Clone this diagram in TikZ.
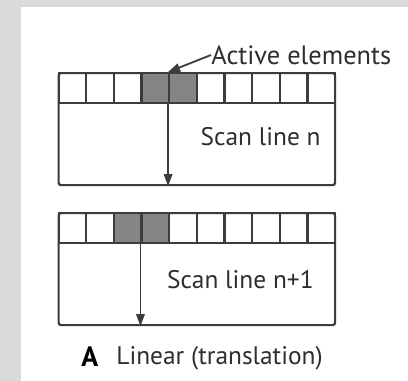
\documentclass[tikz,border=0pt]{standalone}
\usepackage{fontspec}
\setmainfont{PT Sans}
\usepackage{xcolor}
\usetikzlibrary{positioning, arrows.meta, calc}

\definecolor{pagegray}{HTML}{DADADA}
\definecolor{linegray}{HTML}{3C3C3C}
\definecolor{activegray}{HTML}{858585}
\definecolor{textgray}{HTML}{2E2E2E}

\begin{document}
\begin{tikzpicture}[
        x=0.5pt, y=-0.5pt,
        scanbox/.style={draw=linegray, line width=1.1pt, rounded corners=1.2pt, minimum width=138.25pt, minimum height=56pt, inner sep=0pt, anchor=north west},
        cellbox/.style={draw=linegray, line width=1.1pt, minimum width=13.825pt, minimum height=15pt, inner sep=0pt, anchor=north west},
        activecell/.style={cellbox, fill=activegray},
        arrow/.style={-{Triangle[length=6pt, width=4.2pt]}, line width=0.9pt, draw=linegray, fill=linegray},
        label/.style={font=\fontsize{12.7}{15}\selectfont, text=textgray, inner sep=0pt}
    ]

    % ============ BACKGROUND ============
    \useasboundingbox (0,0) rectangle (408,381);
    \fill[pagegray] (0,0) rectangle (408,381);
    \fill[white] (21,7) rectangle (408,381);

    % ============ SCAN LINE n ============
    \node[scanbox] (linen) at (57.5,72) {};
    \foreach \i in {0,...,9} {
        \ifnum\i=3 \def\cellstyle{activecell}\else\ifnum\i=4 \def\cellstyle{activecell}\else\def\cellstyle{cellbox}\fi\fi
        \node[\cellstyle] (n\i) at ([xshift=\i*13.825pt]linen.north west) {};
    }
    \node[label, anchor=east] (labn) at (321,137) {Scan line n};

    % ============ SCAN LINE n+1 ============
    \node[scanbox] (linem) at (57.5,212) {};
    \foreach \i in {0,...,9} {
        \ifnum\i=2 \def\cellstyle{activecell}\else\ifnum\i=3 \def\cellstyle{activecell}\else\def\cellstyle{cellbox}\fi\fi
        \node[\cellstyle] (m\i) at ([xshift=\i*13.825pt]linem.north west) {};
    }
    \node[label, anchor=east] (labm) at (314,280) {Scan line n+1};

    % ============ LABELS ============
    \node[label, anchor=west, font=\fontsize{13.2}{15}\selectfont] (active) at (211,55) {Active elements};
    \node[label, anchor=west, font=\fontsize{14}{16}\selectfont\bfseries, text=black] (panel) at (81,357) {A};
    \node[label, anchor=west] (caption) at (116,358) {Linear (translation)};

    % ============ ARROWS ============
    \draw[arrow] (active.west) -- (n4.north west);
    \draw[arrow] (n4.south west) -- (n4.south west |- linen.south);
    \draw[arrow] (m3.south west) -- (m3.south west |- linem.south);

\end{tikzpicture}
\end{document}
